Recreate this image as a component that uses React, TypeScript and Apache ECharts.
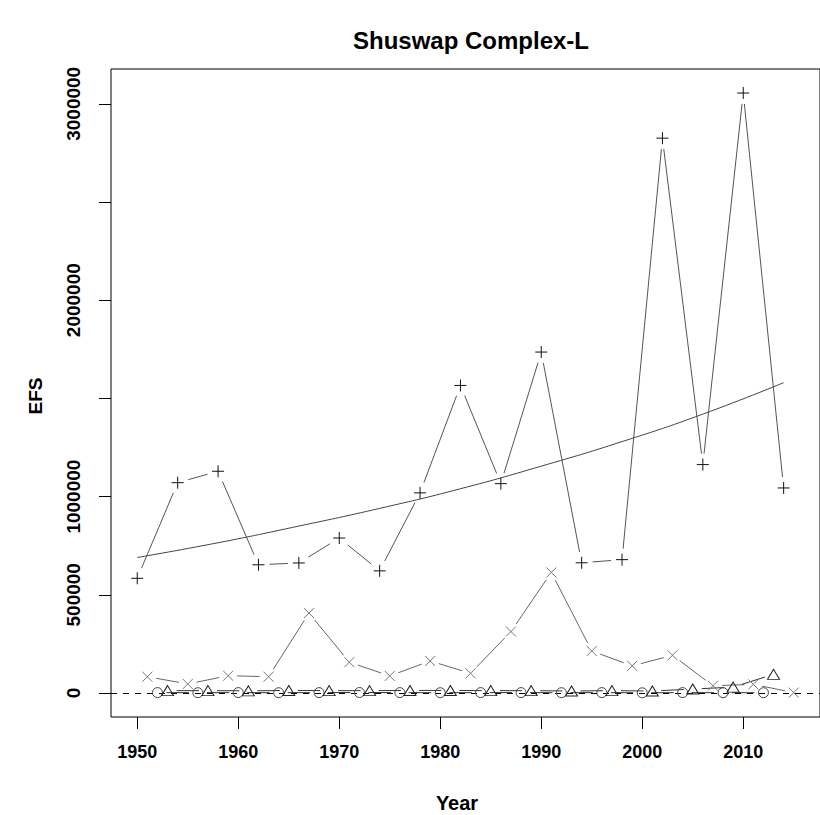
import React, { useEffect, useRef } from "react";
import * as echarts from "echarts";

const plusYears = [1950, 1954, 1958, 1962, 1966, 1970, 1974, 1978, 1982, 1986, 1990, 1994, 1998, 2002, 2006, 2010, 2014];
const plusValues = [584000, 1071000, 1129000, 653000, 662000, 789000, 622000, 1019000, 1566000, 1066000, 1736000, 663000, 679000, 2825000, 1163000, 3055000, 1044000];

const crossYears = [1951, 1955, 1959, 1963, 1967, 1971, 1975, 1979, 1983, 1987, 1991, 1995, 1999, 2003, 2007, 2011, 2015];
const crossValues = [83000, 46000, 88000, 83000, 407000, 157000, 87000, 163000, 100000, 313000, 614000, 214000, 138000, 192000, 37000, 44000, 2000];

const circleYears = [1952, 1956, 1960, 1964, 1968, 1972, 1976, 1980, 1984, 1988, 1992, 1996, 2000, 2004, 2008, 2012];
const circleValues = [2000, 1500, 2000, 1500, 2000, 2500, 2000, 1500, 2000, 2000, 1500, 2000, 1000, 2000, 1500, 1500];

const triYears = [1953, 1957, 1961, 1965, 1969, 1973, 1977, 1981, 1985, 1989, 1993, 1997, 2001, 2005, 2009, 2013];
const triValues = [12000, 12000, 11000, 13000, 12000, 12000, 13000, 13000, 12000, 12000, 10000, 12000, 10000, 20000, 30000, 95000];

const trendYears = [1950, 1958, 1966, 1974, 1982, 1990, 1998, 2006, 2014];
const trendValues = [690000, 765000, 850000, 940000, 1040000, 1155000, 1280000, 1420000, 1580000];

const xTickValues = [1950, 1960, 1970, 1980, 1990, 2000, 2010];
const yTickValues = [0, 500000, 1000000, 1500000, 2000000, 2500000, 3000000];
const yLabelValues = [0, 500000, 1000000, 2000000, 3000000];

const FONT = "'Liberation Sans', Arial, Helvetica, sans-serif";

const PLUS = "path://M0,5.5L11,5.5M5.5,0L5.5,11";
const CROSS = "path://M0,0L10,10M10,0L0,10";
const CIRCLE = "path://M0,5A5,5,0,1,1,10,5A5,5,0,1,1,0,5Z";
const TRI = "path://M5,0L10,8.66L0,8.66Z";

function gapSeries(xs: number[], ys: number[], color: string, gap: number) {
  const data = xs.slice(0, -1).map((x, i) => [x, ys[i], xs[i + 1], ys[i + 1]]);
  return {
    type: "custom",
    silent: true,
    clip: true,
    encode: { x: [0, 2], y: [1, 3] },
    data,
    renderItem: (params: any, api: any) => {
      const p1 = api.coord([api.value(0), api.value(1)]);
      const p2 = api.coord([api.value(2), api.value(3)]);
      const dx = p2[0] - p1[0];
      const dy = p2[1] - p1[1];
      const len = Math.hypot(dx, dy);
      if (len <= 2 * gap) return null;
      const ux = dx / len;
      const uy = dy / len;
      return {
        type: "line",
        shape: {
          x1: p1[0] + ux * gap,
          y1: p1[1] + uy * gap,
          x2: p2[0] - ux * gap,
          y2: p2[1] - uy * gap,
        },
        style: { stroke: color, lineWidth: 1, fill: null },
      };
    },
  };
}

function markerSeries(xs: number[], ys: number[], symbol: string, size: number[] | number, color: string) {
  return {
    type: "scatter",
    silent: true,
    symbol,
    symbolSize: size,
    data: xs.map((x, i) => [x, ys[i]]),
    itemStyle: { color: "rgba(0,0,0,0)", borderColor: color, borderWidth: 1, opacity: 1 },
    z: 5,
  };
}

export default function App() {
  const ref = useRef<HTMLDivElement>(null);
  useEffect(() => {
    if (!ref.current) return;
    const chart = echarts.init(ref.current, null, { renderer: "svg" });
    const allY = [...plusValues, ...crossValues, ...circleValues, ...triValues, 0];
    const allX = [...plusYears, ...crossYears, ...circleYears, ...triYears];
    const yLo = Math.min(...allY);
    const yHi = Math.max(...allY);
    const xLo = Math.min(...allX);
    const xHi = Math.max(...allX);
    const yPad = (yHi - yLo) * 0.04;
    const xPad = (xHi - xLo) * 0.04;

    chart.setOption({
      animation: false,
      backgroundColor: "#ffffff",
      grid: {
        left: 111,
        top: 69,
        right: -13,
        bottom: 98,
        show: true,
        borderColor: "#000",
        borderWidth: 1,
        backgroundColor: "transparent",
      },
      xAxis: {
        type: "value",
        min: xLo - xPad,
        max: xHi + xPad,
        axisLine: { show: false, onZero: false },
        splitLine: { show: false },
        axisTick: { show: true, length: 12, inside: false, customValues: xTickValues, lineStyle: { color: "#000", width: 1 } },
        axisLabel: {
          customValues: xTickValues,
          margin: 26,
          color: "#000",
          fontFamily: FONT,
          fontWeight: "bold",
          fontSize: 18,
          formatter: (v: number) => String(v),
        },
      },
      yAxis: {
        type: "value",
        min: yLo - yPad,
        max: yHi + yPad,
        axisLine: { show: false, onZero: false },
        splitLine: { show: false },
        axisTick: { show: true, length: 12, inside: false, customValues: yTickValues, lineStyle: { color: "#000", width: 1 } },
        axisLabel: {
          customValues: yLabelValues,
          rotate: 90,
          margin: 28,
          color: "#000",
          fontFamily: FONT,
          fontWeight: "bold",
          fontSize: 19,
          formatter: (v: number) => String(v),
        },
      },
      graphic: [
        {
          type: "text",
          x: 471,
          y: 40,
          style: { text: "Shuswap Complex-L", fontFamily: FONT, fontWeight: "bold", fontSize: 24, fill: "#000", textAlign: "center", textVerticalAlign: "middle" },
        },
        {
          type: "text",
          x: 457,
          y: 803,
          style: { text: "Year", fontFamily: FONT, fontWeight: "bold", fontSize: 20, fill: "#000", textAlign: "center", textVerticalAlign: "middle" },
        },
        {
          type: "text",
          x: 35,
          y: 396,
          rotation: Math.PI / 2,
          style: { text: "EFS", fontFamily: FONT, fontWeight: "bold", fontSize: 19, fill: "#000", textAlign: "center", textVerticalAlign: "middle" },
        },
      ],
      series: [
        {
          type: "line",
          silent: true,
          data: trendYears.map((x, i) => [x, trendValues[i]]),
          smooth: true,
          showSymbol: false,
          lineStyle: { color: "#444", width: 1 },
          markLine: {
            silent: true,
            symbol: ["none", "none"],
            label: { show: false },
            lineStyle: { color: "#000", width: 1, type: [6, 6] },
            data: [{ yAxis: 0 }],
          },
        },
        gapSeries(plusYears, plusValues, "#555", 11),
        gapSeries(crossYears, crossValues, "#666", 9),
        gapSeries(circleYears, circleValues, "#333", 9),
        gapSeries(triYears, triValues, "#333", 9),
        markerSeries(plusYears, plusValues, PLUS, [12, 12], "#111"),
        markerSeries(crossYears, crossValues, CROSS, [10, 10], "#777"),
        markerSeries(circleYears, circleValues, CIRCLE, [10, 10], "#444"),
        markerSeries(triYears, triValues, TRI, [12, 10], "#222"),
      ],
    });
    return () => chart.dispose();
  }, []);
  return <div ref={ref} style={{ position: "absolute", left: 0, top: 0, width: 820, height: 815 }} />;
}
